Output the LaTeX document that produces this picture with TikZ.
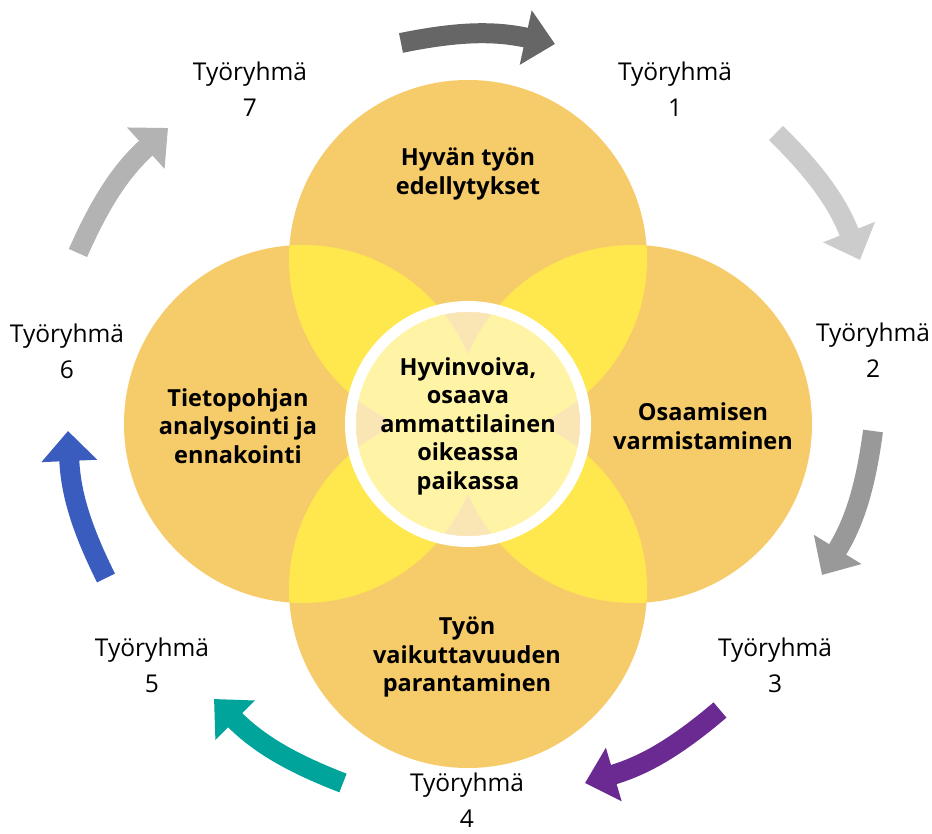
\documentclass[tikz,border=0pt]{standalone}
\usepackage{fontspec}
\setmainfont{Open Sans}
\usetikzlibrary{arrows.meta}

\definecolor{petal}{HTML}{F6CB69}
\definecolor{overlap}{HTML}{FFE84E}
\definecolor{arrowone}{HTML}{666666}
\definecolor{arrowtwo}{HTML}{CCCCCC}
\definecolor{arrowthree}{HTML}{999999}
\definecolor{arrowfour}{HTML}{6A2A92}
\definecolor{arrowfive}{HTML}{00A49A}
\definecolor{arrowsix}{HTML}{3A5CBE}
\definecolor{arrowseven}{HTML}{B3B3B3}

\tikzset{
    groupname/.style={align=center, font=\fontsize{24.5}{36}\selectfont},
    petaltext/.style={align=center, font=\bfseries\fontsize{23.5}{28.5}\selectfont},
    cyclearrow/.style={line width=20pt, -{Triangle[width=54pt,length=30pt]}},
}

\begin{document}
\begin{tikzpicture}[x=1pt,y=1pt]
    \useasboundingbox (0,0) rectangle (932,834);

    %petals
    \coordinate (mid) at (468,410);
    \coordinate (ptop) at (468,575);
    \coordinate (pright) at (633,410);
    \coordinate (pbottom) at (468,245);
    \coordinate (pleft) at (303,410);
    \foreach \p in {ptop,pright,pbottom,pleft}
        \fill[petal] (\p) circle (179);
    \foreach \p/\q in {ptop/pright,pright/pbottom,pbottom/pleft,pleft/ptop,ptop/pbottom,pleft/pright} {
        \begin{scope}
            \clip (\p) circle (179);
            \fill[overlap] (\q) circle (179);
        \end{scope}
    }

    %centre disc
    \fill[white, opacity=0.5] (mid) circle (112);
    \draw[white, line width=11pt] (mid) circle (117.5);

    %petal texts
    \node[petaltext] (tgood) at (468,660) {Hyvän työn\\edellytykset};
    \node[petaltext] (tknow) at (238,408) {Tietopohjan\\analysointi ja\\ennakointi};
    \node[petaltext] (tskill) at (703,408) {Osaamisen\\varmistaminen};
    \node[petaltext] (timpact) at (467,177) {Työn\\vaikuttavuuden\\parantaminen};
    \node[petaltext] (tcore) at (468,408) {Hyvinvoiva,\\osaava\\ammattilainen\\oikeassa\\paikassa};

    %working groups
    \node[groupname] (g1) at (675,745) {Työryhmä\\1};
    \node[groupname] (g2) at (873,484) {Työryhmä\\2};
    \node[groupname] (g3) at (775,169) {Työryhmä\\3};
    \node[groupname] (g4) at (467,34) {Työryhmä\\4};
    \node[groupname] (g5) at (152,169) {Työryhmä\\5};
    \node[groupname] (g6) at (67,483) {Työryhmä\\6};
    \node[groupname] (g7) at (250,745) {Työryhmä\\7};

    %cycle arrows
    \coordinate (a1s) at (401,791); \coordinate (a1e) at (555,790);
    \coordinate (a2s) at (776,701); \coordinate (a2e) at (860,574);
    \coordinate (a3s) at (873,403); \coordinate (a3e) at (822,259);
    \coordinate (a4s) at (720,124); \coordinate (a4e) at (585,51);
    \coordinate (a5s) at (343,51);  \coordinate (a5e) at (214,135);
    \coordinate (a6s) at (106,256); \coordinate (a6e) at (68,403);
    \coordinate (a7s) at (78,581);  \coordinate (a7e) at (168,706);
    \draw[cyclearrow, arrowone] (a1s) to[bend left=12] (a1e);
    \draw[cyclearrow, arrowtwo] (a2s) to[bend left=12] (a2e);
    \draw[cyclearrow, arrowthree] (a3s) to[bend left=12] (a3e);
    \draw[cyclearrow, arrowfour] (a4s) to[bend left=12] (a4e);
    \draw[cyclearrow, arrowfive] (a5s) to[bend left=12] (a5e);
    \draw[cyclearrow, arrowsix] (a6s) to[bend left=12] (a6e);
    \draw[cyclearrow, arrowseven] (a7s) to[bend left=12] (a7e);
\end{tikzpicture}
\end{document}
